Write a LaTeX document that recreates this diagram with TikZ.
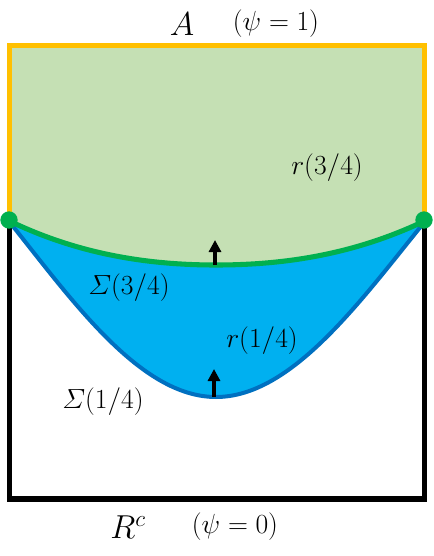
\documentclass[tikz,border=0pt]{standalone}
\usepackage{amsmath}
\usetikzlibrary{arrows.meta}
\definecolor{lgreen}{HTML}{C5E0B4}
\definecolor{dgreen}{HTML}{00B050}
\definecolor{orng}{HTML}{FFC000}
\definecolor{lblue}{HTML}{00B0F0}
\definecolor{dblue}{HTML}{0070C0}
\tikzset{
  lbl/.style={inner sep=0pt, font=\fontsize{20}{22}\selectfont},
  toplbl/.style={inner sep=0pt, font=\fontsize{20}{22}\selectfont},
  bigl/.style={inner sep=0pt, font=\fontsize{25}{27}\selectfont},
  normal/.style={line width=2.3pt, -{Triangle[width=9pt,length=9pt]}},
  dotc/.style={fill=dgreen, draw=none},
}
\begin{document}
\begin{tikzpicture}[x=0.75pt,y=-0.75pt]
\useasboundingbox (0,0) rectangle (433,556);
% fills
\fill[lgreen] (9.5,45.5) -- (424.5,45.5) -- (424.5,221)
  .. controls (353,255) and (283,265) .. (216,265)
  .. controls (150,265) and (80,255) .. (9.5,221) -- cycle;
\fill[lblue] (9.5,221) .. controls (80,255) and (150,265) .. (216,265)
  .. controls (283,265) and (353,255) .. (424.5,221)
  .. controls (361,300) and (292,397) .. (216,397)
  .. controls (140,397) and (72,300) .. (9.5,221) -- cycle;
% frame
\draw[line width=3.8pt, black] (9.5,221) -- (9.5,499) -- (424.5,499) -- (424.5,221);
\draw[line width=3.8pt, orng] (9.5,221) -- (9.5,45.5) -- (424.5,45.5) -- (424.5,221);
% curves
\draw[line width=3pt, dblue] (9.5,222) .. controls (72,300) and (140,397) .. (216,397)
  .. controls (292,397) and (361,300) .. (424.5,222);
\draw[line width=3.8pt, dgreen] (9.5,221) .. controls (80,255) and (150,265) .. (216,265)
  .. controls (283,265) and (353,255) .. (424.5,221);
% dots
\fill[dotc] (9,220) circle (6.5pt);
\fill[dotc] (424,220) circle (6.5pt);
% arrows
\coordinate (a1) at (215,265);
\coordinate (a1t) at (215,240);
\coordinate (a2) at (214,397);
\coordinate (a2t) at (214,369);
\draw[normal] (a1) -- (a1t);
\draw[normal] (a2) -- (a2t);
% labels
\node[bigl] (A) at (182,24) {$A$};
\node[toplbl] (psi1) at (276,24) {$(\psi = 1)$};
\node[bigl] (Rc) at (128,527) {$R^c$};
\node[toplbl] (psi0) at (235,527) {$(\psi = 0)$};
\node[lbl] (r34) at (327,168) {$r(3/4)$};
\node[lbl] (S34) at (129,288) {$\varSigma(3/4)$};
\node[lbl] (r14) at (262,341) {$r(1/4)$};
\node[lbl] (S14) at (103,402) {$\varSigma(1/4)$};
\end{tikzpicture}
\end{document}
